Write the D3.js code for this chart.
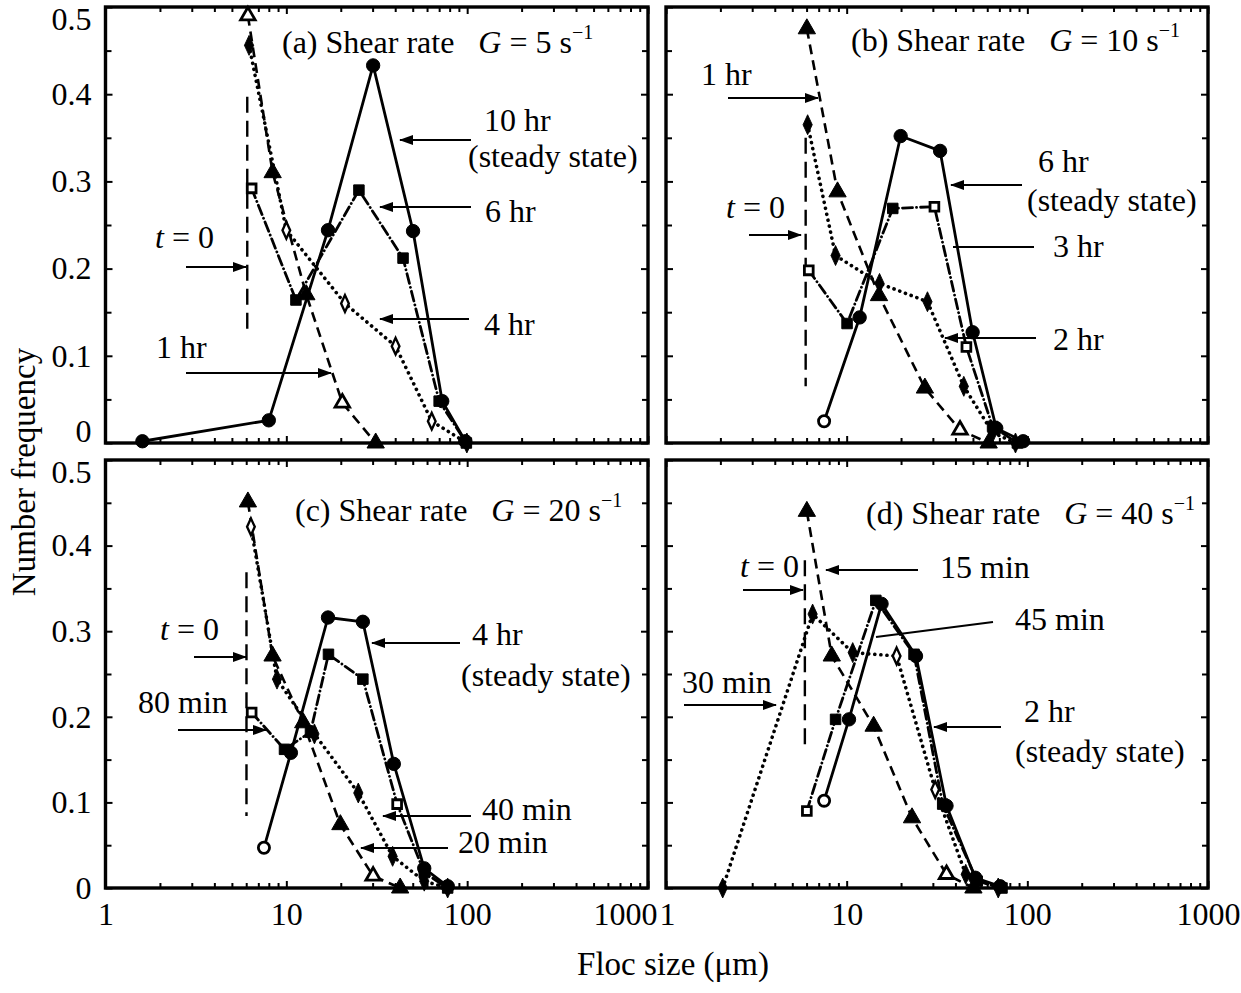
<!DOCTYPE html>
<html><head><meta charset="utf-8">
<script src="https://cdn.jsdelivr.net/npm/d3@7/dist/d3.min.js"></script>
<style>
body{margin:0;background:#fff}
svg{display:block}
text{font-family:"Liberation Serif","Times New Roman",serif;fill:#000}
</style>
</head><body>
<svg id="chart" width="1241" height="993"></svg>
<script>
// ---------- DATA ----------
const xTickValues = [1, 10, 100, 1000];
const xTickLabels = ["1", "10", "100", "1000"];
const yTickValues = [0, 0.1, 0.2, 0.3, 0.4, 0.5];
const yTickLabels = ["0", "0.1", "0.2", "0.3", "0.4", "0.5"];
const panelLetters = ["(a)", "(b)", "(c)", "(d)"];
const shearRates = ["5", "10", "20", "40"];

// Panel (a) G = 5 s^-1
const aTri_x = [6.13, 8.4, 12.9, 20.4, 31.2];            // 1 hr
const aTri_y = [0.49, 0.31, 0.17, 0.046, 0.0];
const aDia_x = [6.22, 10.0, 21.1, 40.2, 63.7, 99.6];      // 4 hr
const aDia_y = [0.456, 0.244, 0.160, 0.111, 0.025, 0.0];
const aSq_x = [6.43, 11.3, 25.2, 44.2, 70, 99];           // 6 hr
const aSq_y = [0.292, 0.164, 0.290, 0.212, 0.048, 0.0];
const aCir_x = [1.6, 8.0, 17.0, 30.2, 50.2, 72.8, 97.7];  // 10 hr
const aCir_y = [0.002, 0.026, 0.244, 0.433, 0.243, 0.048, 0.002];
const aT0 = [6.08, 0.397, 0.128];

// Panel (b) G = 10 s^-1
const bTri_x = [6.02, 8.9, 15.1, 27.1, 42.4, 61.1];       // 1 hr
const bTri_y = [0.475, 0.288, 0.169, 0.063, 0.015, 0.0];
const bDia_x = [6.08, 8.68, 15.2, 28.0, 44.5, 64.2, 86];  // 2 hr
const bDia_y = [0.365, 0.215, 0.183, 0.162, 0.065, 0.012, 0.0];
const bSq_x = [6.17, 10.05, 18.0, 30.6, 46.0, 64.2, 88.1]; // 3 hr
const bSq_y = [0.198, 0.137, 0.269, 0.271, 0.110, 0.019, 0.0];
const bCir_x = [7.5, 11.8, 19.9, 32.9, 49.8, 67.3, 94.8]; // 6 hr
const bCir_y = [0.025, 0.144, 0.352, 0.335, 0.127, 0.017, 0.002];
const bT0 = [5.93, 0.35, 0.065];

// Panel (c) G = 20 s^-1
const cTri_x = [6.13, 8.39, 12.4, 19.9, 30.2, 42.6];      // 20 min
const cTri_y = [0.451, 0.271, 0.193, 0.074, 0.014, 0.0];
const cDia_x = [6.37, 8.88, 14.3, 25.0, 38.7, 57.9, 78];  // 40 min
const cDia_y = [0.422, 0.244, 0.180, 0.111, 0.037, 0.008, 0.0];
const cSq_x = [6.43, 9.77, 13.6, 17.1, 26.5, 41.0, 57.9, 78]; // 80 min
const cSq_y = [0.205, 0.162, 0.182, 0.273, 0.244, 0.098, 0.018, 0.0];
const cCir_x = [7.52, 10.6, 17.0, 26.5, 39.3, 57.9, 78.1]; // 4 hr
const cCir_y = [0.047, 0.158, 0.316, 0.311, 0.145, 0.023, 0.002];
const cT0 = [6.02, 0.369, 0.084];

// Panel (d) G = 40 s^-1
const dTri_x = [6.02, 8.27, 14.1, 23.0, 35.7, 50.3];      // 15 min
const dTri_y = [0.44, 0.271, 0.189, 0.082, 0.016, 0.0];
const dDia_x = [2.06, 6.48, 10.8, 18.9, 30.9, 45.6, 69];  // 30 min
const dDia_y = [0.0, 0.32, 0.275, 0.271, 0.115, 0.016, 0.0];
const dSq_x = [6.02, 8.68, 14.5, 23.6, 34, 52.8, 72.4];   // 45 min
const dSq_y = [0.09, 0.197, 0.336, 0.273, 0.098, 0.008, 0.0];
const dCir_x = [7.5, 10.3, 15.6, 24.2, 35.7, 51.5, 70.7]; // 2 hr
const dCir_y = [0.102, 0.197, 0.332, 0.271, 0.096, 0.012, 0.002];
const dT0 = [5.87, 0.383, 0.16];

// ---------- LAYOUT / STYLE ----------
const panels = [
  {left:105.5, right:648, top:7, bottom:443, xLabels:false, yLabels:true,
   series:[[aTri_x,aTri_y,"tri",[0,3]],[aDia_x,aDia_y,"dia",[1,2,3,4]],[aSq_x,aSq_y,"sq",[0]],[aCir_x,aCir_y,"cir",[]]], t0:aT0,
   titleX:282, titleY:53,
   texts:[["10 hr",484,131],["(steady state)",468,167],["6 hr",485,222],["4 hr",484,335],["1 hr",156,358],["T0",155,248]],
   arrows:[[471,140,400,140,1],[471,207,380,207,1],[469,319,380,319,1],[186,373,331,373,1],[186,267,246,267,1]]},
  {left:666, right:1208, top:7, bottom:443, xLabels:false, yLabels:false,
   series:[[bTri_x,bTri_y,"tri",[4]],[bDia_x,bDia_y,"dia",[]],[bSq_x,bSq_y,"sq",[0,3,4]],[bCir_x,bCir_y,"cir",[0]]], t0:bT0,
   titleX:851, titleY:51,
   texts:[["1 hr",701,85],["T0",726,218],["6 hr",1038,172],["(steady state)",1027,211],["3 hr",1053,257],["2 hr",1053,350]],
   arrows:[[728,98,818,98,1],[749,235,801,235,1],[1022,185,951,185,1],[1034,247,953,247,0],[1036,338,945,338,1]]},
  {left:105.5, right:648, top:460, bottom:888, xLabels:true, yLabels:true,
   series:[[cTri_x,cTri_y,"tri",[4]],[cDia_x,cDia_y,"dia",[0]],[cSq_x,cSq_y,"sq",[0,5]],[cCir_x,cCir_y,"cir",[0]]], t0:cT0,
   titleX:295, titleY:521,
   texts:[["T0",160,640],["80 min",138,713],["4 hr",472,645],["(steady state)",461,686],["40 min",482,820],["20 min",458,853]],
   arrows:[[194,657,246,657,1],[178,730,266,730,1],[460,643,372,643,1],[471,816,383,816,1],[448,848,361,848,1]]},
  {left:666, right:1208, top:460, bottom:888, xLabels:true, yLabels:false,
   series:[[dTri_x,dTri_y,"tri",[4]],[dDia_x,dDia_y,"dia",[3,4]],[dSq_x,dSq_y,"sq",[0]],[dCir_x,dCir_y,"cir",[0]]], t0:dT0,
   titleX:866, titleY:524,
   texts:[["T0",740,577],["15 min",940,578],["45 min",1015,630],["30 min",682,693],["2 hr",1024,722],["(steady state)",1015,762]],
   arrows:[[743,590,803,590,1],[918,570,826,570,1],[993,622,876,637,0],[684,705,776,705,1],[1001,727,934,727,1]]}
];
const lineStyle = {
  tri:{dash:"10,6", w:2.6, cap:"butt"},
  dia:{dash:"0.1,6", w:3.6, cap:"round"},
  sq:{dash:"10,4,0.1,4", w:2.8, cap:"round"},
  cir:{dash:null, w:2.8, cap:"butt"}
};
const FS = 32;
const FS_AXIS = 33;

const svg = d3.select("#chart");
const defs = svg.append("defs");
defs.append("marker").attr("id","ah").attr("viewBox","0 0 14 10")
  .attr("refX",13).attr("refY",5).attr("markerWidth",14).attr("markerHeight",10)
  .attr("markerUnits","userSpaceOnUse").attr("orient","auto")
  .append("path").attr("d","M0,0 L14,5 L0,10 Z").attr("fill","#000");

const minorX = [];
[1,10,100].forEach(d => { for (let k=2;k<=9;k++) minorX.push(k*d); });
const minorY = [0.05,0.15,0.25,0.35,0.45];

panels.forEach((p, i) => {
  const x = d3.scaleLog().domain([1,1000]).range([p.left, p.right]);
  const y = d3.scaleLinear().domain([0,0.5]).range([p.bottom, p.top]);
  const g = svg.append("g");

  // axes (inward ticks)
  const bottomMajor = d3.axisBottom(x).tickValues(xTickValues).tickSize(-7).tickPadding(19)
      .tickFormat((d,j) => p.xLabels ? xTickLabels[j] : "");
  const gb = g.append("g").attr("transform",`translate(0,${p.bottom})`).call(bottomMajor);
  g.append("g").attr("transform",`translate(0,${p.bottom})`)
    .call(d3.axisBottom(x).tickValues(minorX).tickSize(-5).tickFormat(""));
  g.append("g").attr("transform",`translate(0,${p.top})`)
    .call(d3.axisTop(x).tickValues(xTickValues).tickSize(-7).tickFormat(""));
  g.append("g").attr("transform",`translate(0,${p.top})`)
    .call(d3.axisTop(x).tickValues(minorX).tickSize(-5).tickFormat(""));
  const gl = g.append("g").attr("transform",`translate(${p.left},0)`)
    .call(d3.axisLeft(y).tickValues(yTickValues).tickSize(-7).tickPadding(14)
      .tickFormat((d,j) => p.yLabels ? yTickLabels[j] : ""));
  g.append("g").attr("transform",`translate(${p.left},0)`)
    .call(d3.axisLeft(y).tickValues(minorY).tickSize(-6).tickFormat(""));
  g.append("g").attr("transform",`translate(${p.right},0)`)
    .call(d3.axisRight(y).tickValues(yTickValues).tickSize(-7).tickFormat(""));
  g.append("g").attr("transform",`translate(${p.right},0)`)
    .call(d3.axisRight(y).tickValues(minorY).tickSize(-6).tickFormat(""));
  g.selectAll(".domain").remove();
  g.selectAll(".tick line").attr("stroke","#000").attr("stroke-width",2);
  g.selectAll(".tick text").attr("font-size",FS).attr("font-family",'"Liberation Serif",serif').attr("fill","#000");
  gb.selectAll(".tick text").attr("dy","0.55em");
  gl.selectAll(".tick text").attr("dy", d => (d===0.5 ? "0.7em" : (d===0 && i<2 ? "-0.05em" : "0.32em")));
  if (p.xLabels) {
    gb.selectAll(".tick text").attr("text-anchor", d => {
      if (i===2 && d===1000) return "end";
      if (i===3 && d===1) return "start";
      return "middle";
    }).attr("dx", d => (i===2 && d===1000) ? 9 : ((i===3 && d===1) ? -7 : 0));
  }

  // frame
  g.append("rect").attr("x",p.left).attr("y",p.top)
    .attr("width",p.right-p.left).attr("height",p.bottom-p.top)
    .attr("fill","none").attr("stroke","#000").attr("stroke-width",3.4);

  // t = 0 vertical dashed line
  g.append("line").attr("x1",x(p.t0[0])).attr("x2",x(p.t0[0]))
    .attr("y1",y(p.t0[1])).attr("y2",y(p.t0[2]))
    .attr("stroke","#000").attr("stroke-width",2.4).attr("stroke-dasharray","16,8");

  // series lines
  p.series.forEach(([xs, ys, type]) => {
    const pts = xs.map((v,k) => [v, ys[k]]);
    const st = lineStyle[type];
    g.append("path").datum(pts)
      .attr("d", d3.line().x(d => x(d[0])).y(d => y(d[1])))
      .attr("fill","none").attr("stroke","#000").attr("stroke-width",st.w)
      .attr("stroke-linecap",st.cap).attr("stroke-linejoin","round")
      .attr("stroke-dasharray", st.dash);
  });
  // markers
  p.series.forEach(([xs, ys, type, openIdx]) => {
    const pts = xs.map((v,k) => [v, ys[k], openIdx.includes(k)]);
    const sym = {tri:d3.symbolTriangle, dia:d3.symbolDiamond, sq:d3.symbolSquare, cir:d3.symbolCircle}[type];
    const size = {tri:130, dia:115, sq:110, cir:140}[type];
    g.selectAll(null).data(pts).enter().append("path")
      .attr("transform", d => `translate(${x(d[0])},${y(d[1])})` + (type==="dia" ? " scale(0.8,1)" : ""))
      .attr("d", d3.symbol().type(sym).size(d => d[2] ? size*0.7 : size))
      .attr("fill", d => d[2] ? "#fff" : "#000")
      .attr("stroke","#000").attr("stroke-width", d => d[2] ? 2.8 : 1);
  });

  // panel title
  const tt = g.append("text").attr("x",p.titleX).attr("y",p.titleY).attr("font-size",FS);
  tt.append("tspan").text(panelLetters[i] + " Shear rate\u00a0\u00a0\u00a0");
  tt.append("tspan").attr("font-style","italic").text("G");
  tt.append("tspan").text(" = " + shearRates[i] + " s");
  tt.append("tspan").attr("font-size",20).attr("dy",-14).text("\u22121");

  // annotations
  p.texts.forEach(([t, tx, ty]) => {
    const te = g.append("text").attr("x",tx).attr("y",ty).attr("font-size",FS);
    if (t === "T0") {
      te.append("tspan").attr("font-style","italic").text("t");
      te.append("tspan").text(" = 0");
    } else te.text(t);
  });
  p.arrows.forEach(([x1,y1,x2,y2,head]) => {
    g.append("line").attr("x1",x1).attr("y1",y1).attr("x2",x2).attr("y2",y2)
      .attr("stroke","#000").attr("stroke-width",2.2)
      .attr("marker-end", head ? "url(#ah)" : null);
  });
});

// axis titles
svg.append("text").attr("transform","translate(35,472) rotate(-90)")
  .attr("text-anchor","middle").attr("font-size",FS_AXIS).text("Number frequency");
svg.append("text").attr("x",673).attr("y",975)
  .attr("text-anchor","middle").attr("font-size",FS_AXIS).text("Floc size (\u03bcm)");
</script>
</body></html>
